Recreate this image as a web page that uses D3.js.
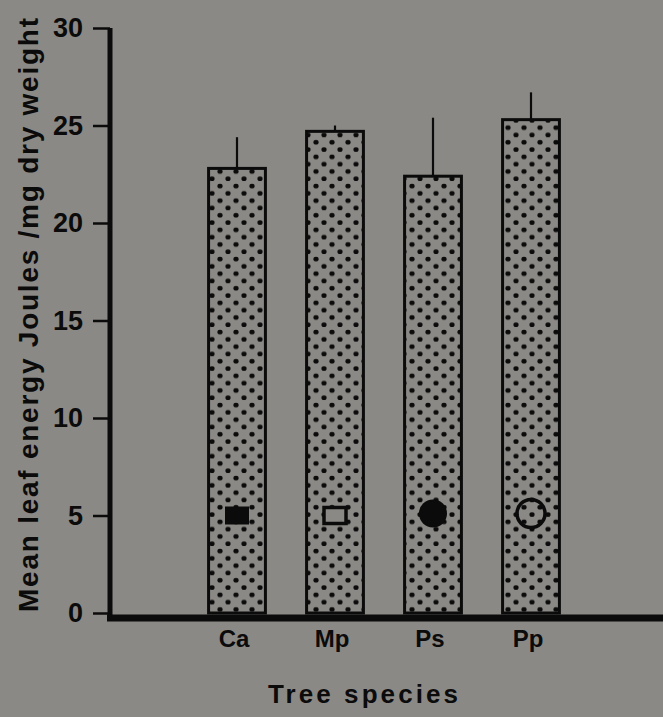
<!DOCTYPE html>
<html>
<head>
<meta charset="utf-8">
<script src="https://cdn.jsdelivr.net/npm/d3@7"></script>
<style>
  html, body { margin: 0; padding: 0; background: #8b8985; }
  svg { display: block; }
</style>
</head>
<body>
<svg id="chart" width="663" height="717"></svg>
<script>
// Tree species and their mean leaf energy (J / mg dry weight)
const species = ["Ca", "Mp", "Ps", "Pp"];
const meanEnergy = [22.8, 24.7, 22.4, 25.3];
const errorUpper = [1.6, 0.3, 3.0, 1.4];
// Species symbols drawn inside each bar
const markerValue = [5, 5, 5, 5];
const markerShape = ["filledSquare", "openSquare", "filledCircle", "openCircle"];
const yTicks = [0, 5, 10, 15, 20, 25, 30];

const W = 663, H = 717;
const ink = "#0b0b0b";
const paper = "#8b8985";
const font = "'Liberation Sans', Arial, Helvetica, sans-serif";

const svg = d3.select("#chart");

const axisX = 110;
const y = d3.scaleLinear().domain([0, 30]).range([613, 28]);
const x = d3.scaleBand().domain(species).range([188, 580])
  .paddingInner(0.42).paddingOuter(0.21);

// stipple fill for the bars
const defs = svg.append("defs");
const pat = defs.append("pattern")
  .attr("id", "stipple")
  .attr("patternUnits", "userSpaceOnUse")
  .attr("width", 16).attr("height", 14.6);
pat.append("rect").attr("width", 16).attr("height", 14.6).attr("fill", paper);
pat.append("ellipse").attr("cx", 4).attr("cy", 3.6).attr("rx", 2.6).attr("ry", 2.3).attr("fill", ink);
pat.append("ellipse").attr("cx", 12).attr("cy", 10.9).attr("rx", 2.6).attr("ry", 2.3).attr("fill", ink);

const rows = species.map((s, i) => ({
  s, mean: meanEnergy[i], err: errorUpper[i], mv: markerValue[i], shape: markerShape[i]
}));

// error bars (upper only)
svg.append("g").selectAll("line")
  .data(rows).join("line")
  .attr("x1", d => x(d.s) + x.bandwidth() / 2)
  .attr("x2", d => x(d.s) + x.bandwidth() / 2)
  .attr("y1", d => y(d.mean))
  .attr("y2", d => y(d.mean + d.err))
  .attr("stroke", ink).attr("stroke-width", 2.2);

// bars
svg.append("g").selectAll("rect")
  .data(rows).join("rect")
  .attr("x", d => x(d.s))
  .attr("y", d => y(d.mean))
  .attr("width", x.bandwidth())
  .attr("height", d => y(0) - y(d.mean))
  .attr("fill", "url(#stipple)")
  .attr("stroke", ink).attr("stroke-width", 3);

// species symbols
const mk = svg.append("g");
rows.forEach(d => {
  const cx = x(d.s) + x.bandwidth() / 2;
  const cy = y(d.mv);
  if (d.shape === "filledSquare") {
    mk.append("rect").attr("x", cx - 12).attr("y", cy - 9).attr("width", 24).attr("height", 18)
      .attr("fill", ink);
  } else if (d.shape === "openSquare") {
    mk.append("rect").attr("x", cx - 11).attr("y", cy - 8).attr("width", 22).attr("height", 16)
      .attr("fill", paper).attr("stroke", ink).attr("stroke-width", 3.5);
  } else if (d.shape === "filledCircle") {
    mk.append("circle").attr("cx", cx).attr("cy", cy - 2).attr("r", 14).attr("fill", ink);
  } else {
    mk.append("circle").attr("cx", cx).attr("cy", cy - 2).attr("r", 14)
      .attr("fill", "none").attr("stroke", ink).attr("stroke-width", 3.5);
  }
});

// y axis
const yAxis = svg.append("g")
  .attr("transform", `translate(${axisX},0)`)
  .call(d3.axisLeft(y).tickValues(yTicks).tickSize(17).tickSizeOuter(0).tickPadding(10));
yAxis.select(".domain").attr("stroke", ink).attr("stroke-width", 5)
  .attr("d", `M0,${y(30)}V${y(0) + 8}`);
yAxis.selectAll(".tick line").attr("stroke", ink).attr("stroke-width", 2.5);
yAxis.selectAll(".tick text")
  .attr("fill", ink)
  .style("font-family", font).style("font-size", "27px").style("font-weight", "bold");

// x axis baseline and species labels
svg.append("line")
  .attr("x1", axisX - 3).attr("x2", W)
  .attr("y1", y(0) + 5).attr("y2", y(0) + 5)
  .attr("stroke", ink).attr("stroke-width", 7);

const xAxis = svg.append("g")
  .attr("transform", `translate(0,${y(0) + 5})`)
  .call(d3.axisBottom(x).tickSize(0).tickPadding(12));
xAxis.select(".domain").remove();
xAxis.selectAll(".tick text")
  .attr("fill", ink)
  .attr("dx", "-3")
  .style("font-family", font).style("font-size", "24px").style("font-weight", "bold");

// axis titles
svg.append("text")
  .attr("transform", `translate(38,315) rotate(-90)`)
  .attr("text-anchor", "middle")
  .attr("textLength", 594).attr("lengthAdjust", "spacing")
  .attr("fill", ink)
  .style("font-family", font).style("font-size", "28px").style("font-weight", "bold")
  .text("Mean leaf energy Joules /mg dry weight");

svg.append("text")
  .attr("x", 363).attr("y", 703)
  .attr("text-anchor", "middle")
  .attr("textLength", 190).attr("lengthAdjust", "spacing")
  .attr("fill", ink)
  .style("font-family", font).style("font-size", "26px").style("font-weight", "bold")
  .text("Tree  species");
</script>
</body>
</html>
